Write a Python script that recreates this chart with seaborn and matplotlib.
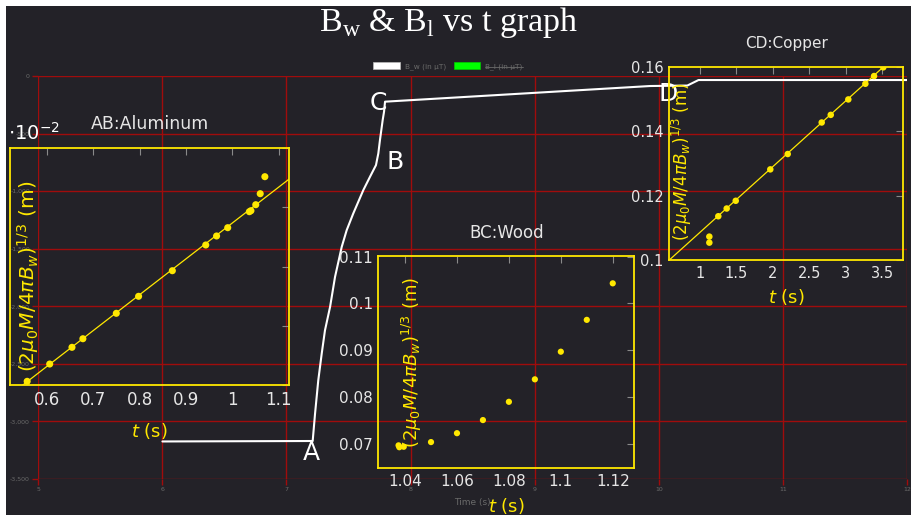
import matplotlib
matplotlib.use("Agg")
import matplotlib.pyplot as plt
import matplotlib.ticker as mticker
from matplotlib.patches import Patch, Rectangle
from matplotlib.lines import Line2D
import seaborn as sns
import pandas as pd

# main chart: B_w (in uT) vs time (s)
main_t = [6.0, 7.211, 7.230, 7.256, 7.284, 7.310, 7.351, 7.391, 7.445, 7.485, 7.538, 7.619, 7.673,
          7.721, 7.740, 7.753, 7.775, 7.786, 7.794, 9.93, 10.23, 10.32, 12.0]
main_b = [-3174, -3170, -2933, -2643, -2409, -2209, -2006, -1745, -1484, -1339, -1194, -991, -875,
          -774, -672, -557, -383, -310, -223, -87, -83, -35, -35]
point_names = ["A", "B", "C", "D"]
point_t = [7.197, 7.874, 7.737, 10.074]
point_b = [-3278, -748, -235, -157]

# AB: aluminum (y in units of 1e-2 m)
al_t = [0.558, 0.6065, 0.6545, 0.678, 0.750, 0.798, 0.8707, 0.9427, 0.966, 0.990, 1.0366, 1.040, 1.0504, 1.060, 1.070]
al_v = [2.062, 2.354, 2.636, 2.781, 3.210, 3.497, 3.929, 4.363, 4.515, 4.655, 4.925, 4.942, 5.043, 5.229, 5.516]
al_fit_t = [0.521, 1.122]
al_fit_v = [1.832, 5.474]

# BC: wood
wd_t = [1.0375, 1.0378, 1.0395, 1.05, 1.06, 1.07, 1.08, 1.09, 1.10, 1.11, 1.12]
wd_v = [0.0697, 0.0693, 0.0694, 0.0704, 0.0723, 0.0751, 0.0790, 0.0838, 0.0897, 0.0965, 0.1043]

# CD: copper
cu_t = [1.128, 1.128, 1.251, 1.366, 1.490, 1.964, 2.203, 2.669, 2.793, 3.034, 3.268, 3.387, 3.514]
cu_v = [0.10726, 0.10539, 0.11358, 0.11598, 0.11838, 0.12813, 0.13290, 0.14268, 0.14505, 0.14984, 0.15470, 0.15710, 0.15981]
cu_fit_t = [0.579, 3.788]
cu_fit_v = [0.1, 0.1655]

BG = "#232228"
GRID = "#a00c0c"
YEL = "#ffe800"
TXT = "#e6e6e6"

sns.set_theme(style="dark")
plt.rcParams["font.family"] = ["DejaVu Sans"]
plt.rcParams["mathtext.fontset"] = "custom"
plt.rcParams["mathtext.rm"] = "Liberation Serif"
plt.rcParams["mathtext.it"] = "DejaVu Sans:italic"
plt.rcParams["mathtext.sf"] = "DejaVu Sans"

fig = plt.figure(figsize=(9.11, 5.15), dpi=100, facecolor="white")
fig.patches.append(Rectangle((6 / 911, 0), 1, 1 - 6 / 515, transform=fig.transFigure,
                             facecolor=BG, edgecolor="none", zorder=-10))

# ---- main axes
ax = fig.add_axes([38.3 / 911, 1 - 479 / 515, (907 - 38.3) / 911, (479 - 76) / 515])
ax.set_facecolor("none")
df_main = pd.DataFrame({"t": main_t, "b": main_b})
sns.lineplot(data=df_main, x="t", y="b", sort=False, estimator=None, color="white", lw=1.5, ax=ax)
ax.set_xlim(5, 12)
ax.set_ylim(-3500, 0)
ax.xaxis.set_major_locator(mticker.MultipleLocator(1))
ax.yaxis.set_major_locator(mticker.MultipleLocator(500))
ax.yaxis.set_major_formatter(mticker.FuncFormatter(lambda v, p: f"{v:,.0f}"))
ax.grid(True, color=GRID, lw=1.0)
ax.tick_params(colors=GRID, labelcolor="#6a6a6a", labelsize=4.5, length=4, width=1.0, pad=2,
               bottom=True, left=True)
for s in ax.spines.values():
    s.set_visible(False)
ax.set_xlabel("Time (s)", color="#6a6a6a", fontsize=6.5, labelpad=4)
ax.set_ylabel("")
for name, t, b in zip(point_names, point_t, point_b):
    ax.text(t, b, name, color="white", fontsize=18, ha="center", va="center")

fig.text(449 / 911, 1 - 22 / 515, r"B$_\mathrm{w}$ & B$_\mathrm{l}$ vs t graph", family="Liberation Serif",
         color="white", fontsize=24.5, ha="center", va="center")

leg = fig.legend(handles=[Patch(facecolor="white", edgecolor="#bbbbbb", lw=0.5),
                          Patch(facecolor="#00ff00", edgecolor="#00cc00", lw=0.5)],
                 labels=["B_w (in µT)", "B_l (in µT)"], loc="center",
                 bbox_to_anchor=(448 / 911, 1 - 66 / 515), ncol=2, frameon=False, fontsize=5.3,
                 handlelength=3.6, handleheight=1.1, handletextpad=0.7, columnspacing=1.0,
                 labelcolor="#6a6a6a")


def style_inset(a, xlab_y, tick_size):
    a.set_facecolor("none")
    for s in a.spines.values():
        s.set_color(YEL)
        s.set_linewidth(1.3)
    a.grid(False)
    a.tick_params(direction="in", top=True, right=True, color="#8a8a8a", length=5, width=0.8,
                  labelcolor=TXT, labelsize=tick_size, pad=4)
    a.set_xlabel("")
    a.set_ylabel("")
    a.text(0.5, xlab_y, r"$t$ (s)", transform=a.transAxes, color=YEL, fontsize=13,
           ha="center", va="center")


ylab = r"$\mathsf{(2}\mu_\mathsf{0}M\mathsf{/4}\pi B_w\mathsf{)}^\mathsf{1/3}$ (m)"

# ---- AB aluminum
a1 = fig.add_axes([10 / 911, 1 - 385 / 515, 279 / 911, 237 / 515])
sns.lineplot(x=al_fit_t, y=al_fit_v, color=YEL, lw=0.9, ax=a1)
sns.scatterplot(x=al_t, y=al_v, color=YEL, s=26, edgecolor="none", ax=a1, zorder=3)
a1.set_xlim(0.521, 1.122)
a1.set_ylim(2, 6)
a1.xaxis.set_major_locator(mticker.MultipleLocator(0.1))
a1.yaxis.set_major_locator(mticker.MultipleLocator(1))
a1.xaxis.set_major_formatter(mticker.FuncFormatter(lambda v, p: f"{v:g}"))
a1.set_yticklabels([])
style_inset(a1, -0.195, 12)
a1.text(0.065, 0.46, ylab, transform=a1.transAxes, rotation=90, color=YEL, fontsize=14.5,
        ha="center", va="center")
a1.text(0.5, 1.1, "AB:Aluminum", transform=a1.transAxes, color=TXT, fontsize=12.5,
        ha="center", va="center")
a1.text(0.085, 1.063, r"$\mathsf{\cdot 10^{-2}}$", transform=a1.transAxes, color="white",
        fontsize=14, ha="center", va="center")

# ---- BC wood
a2 = fig.add_axes([378.3 / 911, 1 - 468.3 / 515, 256 / 911, 212.6 / 515])
sns.scatterplot(x=wd_t, y=wd_v, color=YEL, s=20, edgecolor="none", ax=a2, zorder=3)
a2.set_xlim(1.0297, 1.1283)
a2.set_ylim(0.0648, 0.1102)
a2.xaxis.set_major_locator(mticker.MultipleLocator(0.02))
a2.yaxis.set_major_locator(mticker.MultipleLocator(0.01))
a2.xaxis.set_major_formatter(mticker.FuncFormatter(lambda v, p: f"{v:g}"))
a2.yaxis.set_major_formatter(mticker.FuncFormatter(lambda v, p: f"{v:g}"))
style_inset(a2, -0.175, 11)
a2.text(0.133, 0.50, ylab, transform=a2.transAxes, rotation=90, color=YEL, fontsize=13,
        ha="center", va="center")
a2.text(0.5, 1.107, "BC:Wood", transform=a2.transAxes, color=TXT, fontsize=12,
        ha="center", va="center")

# ---- CD copper
a3 = fig.add_axes([669.3 / 911, 1 - 260 / 515, 234 / 911, 193.3 / 515])
sns.lineplot(x=cu_fit_t, y=cu_fit_v, color=YEL, lw=0.9, ax=a3)
sns.scatterplot(x=cu_t, y=cu_v, color=YEL, s=22, edgecolor="none", ax=a3, zorder=3)
a3.set_xlim(0.579, 3.788)
a3.set_ylim(0.1, 0.16)
a3.xaxis.set_major_locator(mticker.MultipleLocator(0.5))
a3.yaxis.set_major_locator(mticker.MultipleLocator(0.02))
a3.xaxis.set_major_formatter(mticker.FuncFormatter(lambda v, p: f"{v:g}"))
a3.yaxis.set_major_formatter(mticker.FuncFormatter(lambda v, p: f"{v:g}"))
style_inset(a3, -0.19, 10.5)
a3.text(0.055, 0.51, ylab, transform=a3.transAxes, rotation=90, color=YEL, fontsize=12,
        ha="center", va="center")
a3.text(0.5, 1.12, "CD:Copper", transform=a3.transAxes, color=TXT, fontsize=11,
        ha="center", va="center")

# strike through the hidden dataset label
fig.canvas.draw()
bb = leg.get_texts()[1].get_window_extent().transformed(fig.transFigure.inverted())
ym = (bb.y0 + bb.y1) / 2
fig.lines.append(Line2D([bb.x0, bb.x1], [ym, ym], transform=fig.transFigure, color="#6a6a6a", lw=0.6))

fig.savefig("out.png", dpi=100, facecolor=fig.get_facecolor())
